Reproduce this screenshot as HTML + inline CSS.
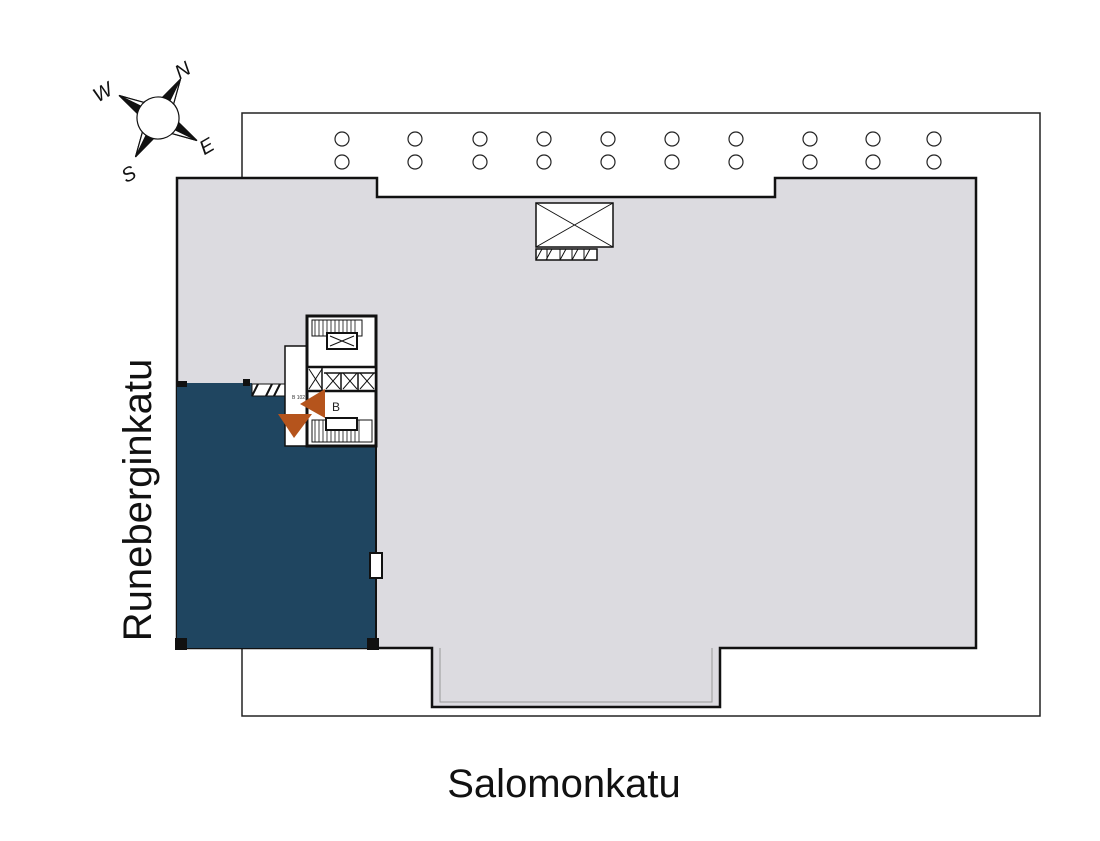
<!DOCTYPE html>
<html><head><meta charset="utf-8"><style>body{margin:0;background:#fff}svg{display:block}</style></head><body>
<svg width="1100" height="841" viewBox="0 0 1100 841" xmlns="http://www.w3.org/2000/svg" font-family="Liberation Sans, sans-serif">
<rect width="1100" height="841" fill="#fff"/>
<rect x="242" y="113" width="798" height="603" fill="none" stroke="#222" stroke-width="1.5"/>
<g fill="none" stroke="#222" stroke-width="1.2">
<circle cx="342" cy="139" r="7"/><circle cx="415" cy="139" r="7"/><circle cx="480" cy="139" r="7"/><circle cx="544" cy="139" r="7"/><circle cx="608" cy="139" r="7"/><circle cx="672" cy="139" r="7"/><circle cx="736" cy="139" r="7"/><circle cx="810" cy="139" r="7"/><circle cx="873" cy="139" r="7"/><circle cx="934" cy="139" r="7"/>
<circle cx="342" cy="162" r="7"/><circle cx="415" cy="162" r="7"/><circle cx="480" cy="162" r="7"/><circle cx="544" cy="162" r="7"/><circle cx="608" cy="162" r="7"/><circle cx="672" cy="162" r="7"/><circle cx="736" cy="162" r="7"/><circle cx="810" cy="162" r="7"/><circle cx="873" cy="162" r="7"/><circle cx="934" cy="162" r="7"/>
</g>
<path d="M177 178 H377 V197 H775 V178 H976 V648 H720 V707 H432 V648 H177 Z" fill="#dcdbe0" stroke="#111" stroke-width="2.5"/>
<path d="M440 648 V702 H712 V648" fill="#dcdbe0" stroke="#999" stroke-width="1"/>
<rect x="441" y="640" width="270" height="12" fill="#dcdbe0"/>
<rect x="536" y="203" width="77" height="44" fill="#fff" stroke="#111" stroke-width="1.5"/>
<path d="M536 203 L613 247 M613 203 L536 247" stroke="#111" stroke-width="1"/>
<rect x="536" y="249" width="61" height="11" fill="#fff" stroke="#111" stroke-width="1.5"/>
<path d="M542 249 l-6 11 M552 249 l-6 11 M566 249 l-6 11 M578 249 l-6 11 M590 249 l-6 11 M547 249v11 M560 249v11 M572 249v11 M584 249v11" stroke="#111"/>
<path d="M177 383 H252 V387 H285 V400 H307 V446 H376 V648 H177 Z" fill="#1f4560"/>
<rect x="177" y="381" width="10" height="6" fill="#111"/><rect x="243" y="379" width="7" height="7" fill="#111"/>
<rect x="175" y="638" width="12" height="12" fill="#111"/><rect x="367" y="638" width="12" height="12" fill="#111"/>
<line x1="376" y1="440" x2="376" y2="648" stroke="#111" stroke-width="2"/>
<rect x="370" y="553" width="12" height="25" fill="#fff" stroke="#111" stroke-width="2"/>
<rect x="252" y="384" width="33" height="12" fill="#fff" stroke="#111"/>
<path d="M258 384 l-6 12 M272 384 l-6 12 M280 384 l-6 12" stroke="#111" stroke-width="2"/>
<rect x="285" y="346" width="22" height="100" fill="#fff" stroke="#111" stroke-width="1.5"/>
<text x="292" y="399" font-size="5" fill="#333">B 102</text>
<rect x="307" y="316" width="69" height="130" fill="#fff" stroke="#111" stroke-width="3"/>
<rect x="312" y="320" width="50" height="16" fill="#fff" stroke="#111"/>
<path d="M315 320v16 M319 320v16 M323 320v16 M327 320v16 M331 320v16 M335 320v16 M339 320v16 M343 320v16 M347 320v16 M351 320v16 M355 320v16" stroke="#111" stroke-width="0.8"/>
<rect x="327" y="333" width="30" height="16" fill="#fff" stroke="#111" stroke-width="2"/>
<path d="M330 336 L354 346 M354 336 L330 346" stroke="#111"/>
<rect x="307" y="367" width="69" height="24" fill="#fff" stroke="#111" stroke-width="2.5"/>
<path d="M309 369 L322 389 M322 369 L309 389 M326 373 L340 389 M340 373 L326 389 M343 373 L357 389 M357 373 L343 389 M360 373 L374 389 M374 373 L360 389" stroke="#111"/>
<path d="M322 367V391 M324 373H376 M341 373V391 M358 373V391" stroke="#111" stroke-width="1.5"/>
<text x="332" y="411" font-size="12" fill="#222">B</text>
<rect x="312" y="420" width="60" height="22" fill="#fff" stroke="#111"/>
<path d="M315 420v22 M319 420v22 M323 420v22 M327 420v22 M331 420v22 M335 420v22 M339 420v22 M343 420v22 M347 420v22 M351 420v22 M355 420v22 M359 420v22" stroke="#111" stroke-width="0.8"/>
<rect x="326" y="418" width="31" height="12" fill="#fff" stroke="#111" stroke-width="2"/>
<path d="M325 389 L325 418 L300 404 Z" fill="#b5541c"/>
<path d="M278 414 L312 414 L294 438 Z" fill="#b5541c"/>
<!-- compass -->
<g transform="translate(158 118) rotate(30)" stroke="#111" stroke-width="1.2">
<path d="M0 -45 L-8 -14 L8 -14 Z" fill="#111"/>
<path d="M0 -45 L2 -16 L8 -14 Z" fill="#fff"/>
<path d="M0 45 L-8 14 L8 14 Z" fill="#111"/>
<path d="M0 45 L-2 16 L-8 14 Z" fill="#fff"/>
<path d="M-45 0 L-14 -8 L-14 8 Z" fill="#111"/>
<path d="M-45 0 L-16 -2 L-14 -8 Z" fill="#fff"/>
<path d="M45 0 L14 -8 L14 8 Z" fill="#111"/>
<path d="M45 0 L16 2 L14 8 Z" fill="#fff"/>
<circle cx="0" cy="0" r="21" fill="#fff"/>
</g>
<g font-size="20" font-style="italic" fill="#111" text-anchor="middle">
<text transform="translate(186 76) rotate(-30)">N</text>
<text transform="translate(106 98) rotate(-30)">W</text>
<text transform="translate(210 152) rotate(-30)">E</text>
<text transform="translate(132 180) rotate(-30)">S</text>
</g>
<text x="564" y="797" font-size="40" text-anchor="middle" fill="#111">Salomonkatu</text>
<text transform="translate(151 500) rotate(-90)" font-size="40" text-anchor="middle" fill="#111">Runeberginkatu</text>
</svg>
</body></html>
